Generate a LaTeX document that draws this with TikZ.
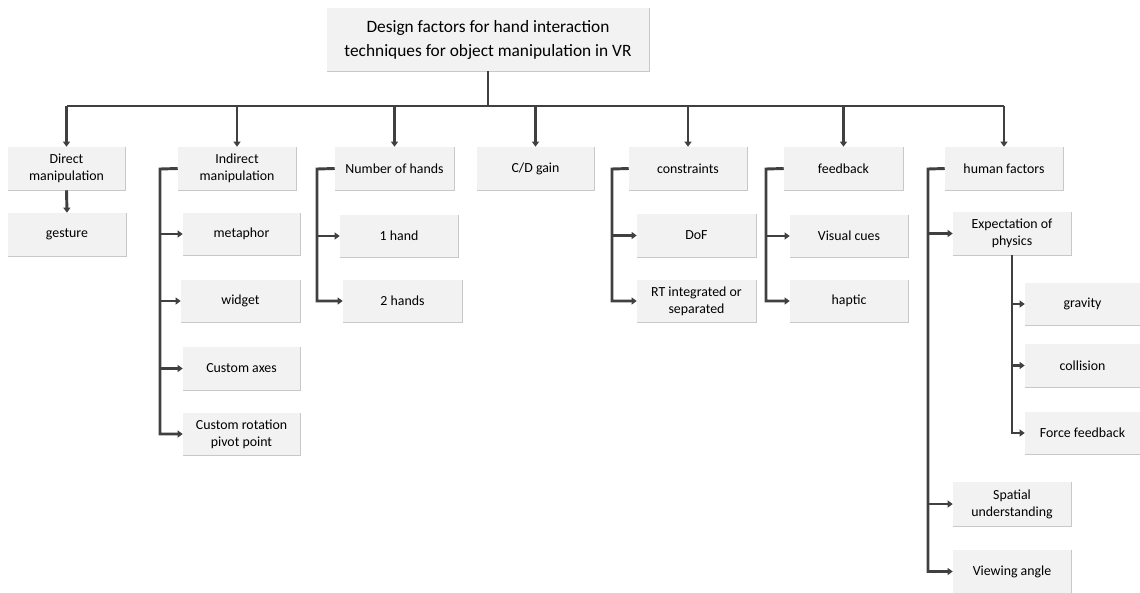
\documentclass[tikz,border=0pt]{standalone}
\usepackage{fontspec}
\setmainfont{Carlito}
\usetikzlibrary{arrows.meta}

\definecolor{boxfill}{HTML}{F2F2F2}
\definecolor{boxedge}{HTML}{C8C8C8}
\definecolor{linecol}{HTML}{404040}

\tikzset{
  box/.style={fill=boxfill, inner sep=0pt, align=center,
    font=\fontsize{10.4pt}{12.8pt}\selectfont},
  edge/.style={draw=boxedge, line width=0.8pt},
  trunk/.style={draw=linecol, line width=2.2pt},
  arr/.style={trunk, -{Triangle[length=3.8pt,width=5.2pt]}}
}

% factor box: name, x1, y1, x2, y2, text (pixel units, y downward)
\newcommand{\factorbox}[7][]{%
  \node[box, #1, minimum width={(#5-#3)*0.75pt}, minimum height={(#6-#4)*0.75pt}]
    (#2) at ({(#3+#5)/2},{(#4+#6)/2}) {#7};
  \draw[edge] (#2.north east) -- (#2.south east) -- (#2.south west);}

\begin{document}
\begin{tikzpicture}[x=0.75pt, y=-0.75pt]
\useasboundingbox (0,0) rectangle (1140,593);

% root
\factorbox[font=\fontsize{13pt}{18pt}\selectfont]{root}{327}{8}{649}{71}
  {Design factors for hand interaction\\techniques for object manipulation in VR}

% first level
\factorbox{dm}{8}{147}{125}{190}{Direct\\manipulation}
\factorbox{im}{178}{147}{296}{190}{Indirect\\manipulation}
\factorbox{nh}{335}{147}{454}{190}{Number of hands}
\factorbox{cd}{477}{147}{594}{190}{C/D gain}
\factorbox{co}{629}{147}{747}{190}{constraints}
\factorbox{fb}{784}{147}{903}{190}{feedback}
\factorbox{hf}{945}{147}{1063}{190}{human factors}

% second level
\factorbox{ge}{8}{213}{126}{256}{gesture}
\factorbox{me}{183}{213}{300}{255}{metaphor}
\factorbox{wi}{181}{280}{300}{322}{widget}
\factorbox{ca}{183}{347}{300}{390}{Custom axes}
\factorbox{cr}{183}{413}{300}{455}{Custom rotation\\pivot point}
\factorbox{ha1}{340}{215}{458}{257}{1 hand}
\factorbox{ha2}{343}{280}{462}{322}{2 hands}
\factorbox{dof}{637}{214}{756}{257}{DoF}
\factorbox{rt}{637}{280}{756}{322}{RT integrated or\\separated}
\factorbox{vc}{790}{215}{908}{257}{Visual cues}
\factorbox{hap}{790}{280}{908}{322}{haptic}
\factorbox{ep}{953}{212}{1071}{255}{Expectation of\\physics}
\factorbox{gr}{1025}{283}{1140}{325}{gravity}
\factorbox{cl}{1025}{344}{1140}{387}{collision}
\factorbox{ff}{1025}{412}{1140}{454}{Force feedback}
\factorbox{su}{953}{482}{1071}{526}{Spatial\\understanding}
\factorbox{va}{953}{550}{1071}{593}{Viewing angle}

% bus from the root to the first level
\coordinate (bus) at (66,106);
\draw[trunk] (root.south) -- (root.south |- bus);
\draw[trunk] (dm.north |- bus) -- (hf.north |- bus);
\foreach \n in {dm,im,nh,cd,co,fb,hf}
  \draw[arr] (\n.north |- bus) -- (\n.north);

% direct manipulation
\draw[arr] (dm.south) -- (ge.north);

% side trunks
\coordinate (imT) at (160,169);
\coordinate (nhT) at (317,169);
\coordinate (coT) at (612,169);
\coordinate (fbT) at (766,169);
\coordinate (hfT) at (928,169);

\draw[arr] (im.west) -- (imT) |- (cr.west);
\foreach \n in {me,wi,ca}
  \draw[arr] (imT |- \n.west) -- (\n.west);

\draw[arr] (nh.west) -- (nhT) |- (ha2.west);
\draw[arr] (nhT |- ha1.west) -- (ha1.west);

\draw[arr] (co.west) -- (coT) |- (rt.west);
\draw[arr] (coT |- dof.west) -- (dof.west);

\draw[arr] (fb.west) -- (fbT) |- (hap.west);
\draw[arr] (fbT |- vc.west) -- (vc.west);

\draw[arr] (hf.west) -- (hfT) |- (va.west);
\foreach \n in {ep,su}
  \draw[arr] (hfT |- \n.west) -- (\n.west);

\draw[arr] (ep.south) |- (ff.west);
\foreach \n in {gr,cl}
  \draw[arr] (ep.south |- \n.west) -- (\n.west);
\end{tikzpicture}
\end{document}
